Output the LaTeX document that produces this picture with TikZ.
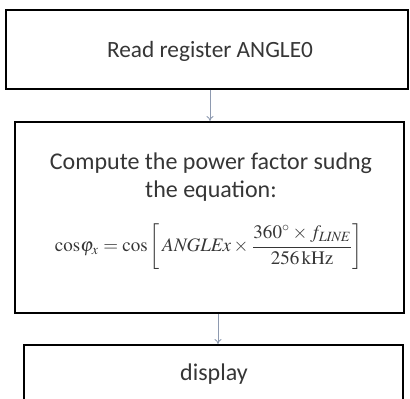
\documentclass[tikz,border=0pt]{standalone}
\usepackage{fontspec}
\usepackage{amsmath}
\usepackage{mathptmx}
\usepackage{graphicx}
\setmainfont{Carlito}
\usetikzlibrary{arrows.meta}
\definecolor{txt}{HTML}{363636}
\definecolor{arrc}{HTML}{8E9AB0}
\tikzset{
  boxst/.style={draw=black, line width=1.9pt, rectangle, inner sep=0pt},
  lbl/.style={text=txt, font=\fontsize{24}{28}\selectfont, inner sep=0pt, anchor=center},
  arr/.style={draw=arrc, line width=0.9pt, -{To[length=5pt,width=7pt]}}
}
\begin{document}
\begin{tikzpicture}[x=1pt,y=-1pt]
\useasboundingbox (0,0) rectangle (410,399);
\node[boxst, minimum width=402pt, minimum height=79pt] (b1) at (207,49.5) {};
\node[boxst, minimum width=389pt, minimum height=191pt] (b2) at (209.5,217.5) {};
\node[boxst, minimum width=379pt, minimum height=60pt] (b3) at (213.5,375) {};
\node[lbl, font=\fontsize{23.3}{28}\selectfont] (t1) at (210,51) {Read register ANGLE0};
\node[lbl] (t2a) at (211,163) {Compute the power factor sudng};
\node[lbl] (t2b) at (211,191) {the equation:};
\node[text=txt, inner sep=0pt] (eq) at (209,247) {\resizebox{308pt}{!}{$\mathrm{cos}\varphi_{x} = \mathrm{cos}\left[\,\mathit{ANGLEx}\times\dfrac{360^{\circ}\times f_{\mathit{LINE}}}{256\,\mathrm{kHz}}\right]$}};
\node[lbl] (t3) at (214,374) {display};
\draw[arr] ([xshift=3pt]b1.south) -- ([xshift=0.5pt]b2.north);
\draw[arr] ([xshift=8.5pt]b2.south) -- ([xshift=4.5pt]b3.north);
\end{tikzpicture}
\end{document}
